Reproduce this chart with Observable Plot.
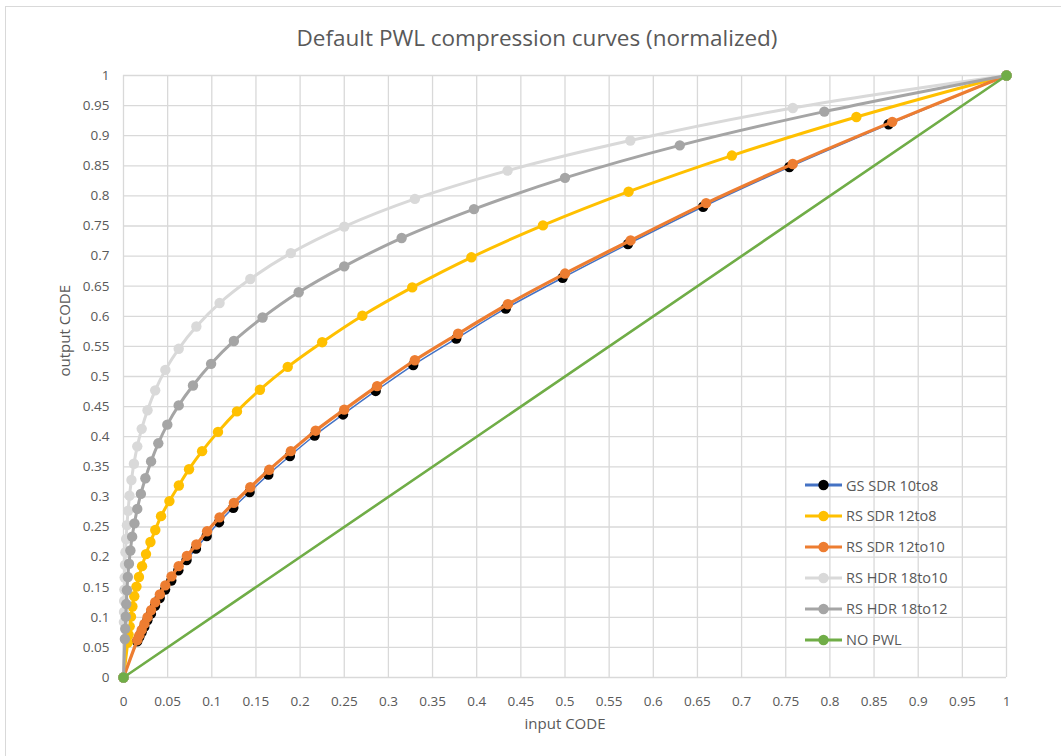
<!DOCTYPE html>
<html><head><meta charset="utf-8">
<script src="https://cdn.jsdelivr.net/npm/d3@7"></script>
<script src="https://cdn.jsdelivr.net/npm/@observablehq/plot@0.6"></script>
<style>
body{margin:0;background:#fff;}
#wrap{position:relative;width:1061px;height:756px;overflow:hidden;font-family:"Open Sans",sans-serif;}
#frame{position:absolute;left:5px;top:6px;width:1100px;height:800px;border-left:1px solid #d9d9d9;border-top:1px solid #d9d9d9;box-sizing:border-box;}
#chart{position:absolute;left:0;top:0;}
#legend{position:absolute;left:805px;top:0;}
.li{position:absolute;left:0;height:20px;display:flex;align-items:center;white-space:nowrap;font-size:14.5px;color:#595959;}
.li svg{margin-right:3px;}
</style></head>
<body><div id="wrap"><div id="frame"></div><div id="chart"></div><div id="legend"></div></div>
<script>
// ---- tick values and labels ----
const tickValues = [0,0.05,0.1,0.15,0.2,0.25,0.3,0.35,0.4,0.45,0.5,0.55,0.6,0.65,0.7,0.75,0.8,0.85,0.9,0.95,1];
const tickLabels = ["0","0.05","0.1","0.15","0.2","0.25","0.3","0.35","0.4","0.45","0.5","0.55","0.6","0.65","0.7","0.75","0.8","0.85","0.9","0.95","1"];

// ---- series names ----
const seriesNames = ["GS SDR 10to8","RS SDR 12to8","RS SDR 12to10","RS HDR 18to10","RS HDR 18to12","NO PWL"];

// GS SDR 10to8
const gsX = [0,0.0155,0.0178,0.0205,0.0235,0.027,0.0311,0.0357,0.041,0.0471,0.0541,0.0621,0.0714,0.082,0.0942,0.1082,0.1243,0.1428,0.164,0.1884,0.2164,0.2486,0.2856,0.3281,0.3768,0.4329,0.4973,0.5713,0.6564,0.7541,0.8665,1];
const gsY = [0,0.060,0.067,0.075,0.084,0.095,0.106,0.119,0.132,0.146,0.161,0.178,0.195,0.214,0.235,0.258,0.282,0.308,0.337,0.368,0.402,0.437,0.476,0.519,0.563,0.613,0.664,0.720,0.782,0.848,0.919,1];

// RS SDR 12to8
const sdr8X = [0,0.0048,0.0058,0.007,0.0085,0.0101,0.0122,0.0147,0.0175,0.021,0.0255,0.0305,0.036,0.0425,0.052,0.0627,0.0742,0.089,0.107,0.1285,0.1545,0.186,0.225,0.2705,0.327,0.394,0.475,0.572,0.689,0.830,1];
const sdr8Y = [0,0.058,0.071,0.085,0.101,0.118,0.135,0.151,0.167,0.185,0.205,0.225,0.245,0.268,0.293,0.319,0.346,0.376,0.408,0.442,0.478,0.516,0.557,0.601,0.648,0.698,0.751,0.807,0.867,0.931,1];

// RS SDR 12to10
const sdr10X = [0,0.0156,0.0179,0.0206,0.0237,0.0272,0.0313,0.0359,0.0412,0.0474,0.0544,0.0625,0.0718,0.0825,0.0947,0.1088,0.125,0.1436,0.165,0.1895,0.2176,0.25,0.2872,0.3299,0.3789,0.4353,0.5,0.5743,0.6598,0.7579,0.8706,1];
const sdr10Y = [0,0.062,0.070,0.079,0.089,0.100,0.112,0.125,0.138,0.153,0.168,0.185,0.202,0.221,0.243,0.266,0.290,0.316,0.345,0.376,0.410,0.445,0.484,0.527,0.571,0.620,0.671,0.726,0.788,0.853,0.923,1];

// RS HDR 18to10
const hdr10X = [0,0.00042,0.00056,0.00074,0.00098,0.0013,0.0017,0.0022,0.0030,0.0039,0.0052,0.0068,0.0090,0.0118,0.0156,0.0206,0.0272,0.0359,0.0474,0.0625,0.0825,0.1088,0.1436,0.1895,0.25,0.330,0.435,0.574,0.758,1];
const hdr10Y = [0,0.092,0.109,0.127,0.146,0.166,0.187,0.208,0.230,0.253,0.277,0.302,0.328,0.355,0.384,0.413,0.444,0.477,0.511,0.546,0.583,0.622,0.662,0.705,0.749,0.795,0.842,0.892,0.946,1];

// RS HDR 18to12
const hdr12X = [0,0.00155,0.00195,0.0025,0.0031,0.0039,0.0049,0.0062,0.0078,0.0098,0.0124,0.0156,0.0197,0.0248,0.03125,0.0394,0.0496,0.0625,0.0787,0.0992,0.125,0.1575,0.1984,0.25,0.315,0.3969,0.5,0.63,0.7937,1];
const hdr12Y = [0,0.064,0.081,0.101,0.122,0.145,0.167,0.189,0.211,0.234,0.256,0.280,0.305,0.331,0.359,0.389,0.420,0.452,0.485,0.521,0.559,0.598,0.640,0.683,0.730,0.778,0.830,0.884,0.940,1];

// NO PWL
const noX = [0,1];
const noY = [0,1];

const colors = {line:["#4472c4","#ffc000","#ed7d31","#d9d9d9","#a5a5a5","#70ad47"], dot:["#000000","#ffc000","#ed7d31","#d9d9d9","#a5a5a5","#70ad47"]};
const lineWidths = [1.5,3,3.2,3,3,2.6];

const rows = (xs, ys) => xs.map((x, i) => ({x, y: ys[i]}));
const series = [rows(gsX,gsY), rows(sdr8X,sdr8Y), rows(sdr10X,sdr10Y), rows(hdr10X,hdr10Y), rows(hdr12X,hdr12Y), rows(noX,noY)];

const marks = [
  Plot.gridX(tickValues, {stroke:"#d9d9d9", strokeOpacity:1, strokeWidth:1.3}),
  Plot.gridY(tickValues, {stroke:"#d9d9d9", strokeOpacity:1, strokeWidth:1.3}),
  Plot.axisX(tickValues, {anchor:"bottom", tickSize:0, tickPadding:19, fontSize:13.5, fill:"#595959", label:null,
    tickFormat: d => tickLabels[Math.round(d*20)]}),
  Plot.axisY(tickValues, {anchor:"left", tickSize:0, tickPadding:14, fontSize:13.5, fill:"#595959", label:null,
    tickFormat: d => tickLabels[Math.round(d*20)]}),
  Plot.text(["Default PWL compression curves (normalized)"], {frameAnchor:"top", lineAnchor:"middle", dy:-37, dx:-28, fontSize:22.5, fill:"#595959"}),
  Plot.text(["input CODE"], {frameAnchor:"bottom", lineAnchor:"middle", dy:47, fontSize:15, fill:"#595959"}),
  Plot.text(["output CODE"], {frameAnchor:"left", lineAnchor:"middle", dx:-58, rotate:-90, fontSize:15, fill:"#595959"})
];
series.forEach((d, i) => {
  marks.push(Plot.line(d, {x:"x", y:"y", stroke:colors.line[i], strokeWidth:lineWidths[i], curve:"catmull-rom"}));
  marks.push(Plot.dot(d, {x:"x", y:"y", r:5.2, fill:colors.dot[i], stroke:"none"}));
});

const chart = Plot.plot({
  width:1061, height:756,
  marginLeft:123, marginRight:55, marginTop:75, marginBottom:79,
  x:{domain:[0,1], axis:null},
  y:{domain:[0,1], axis:null},
  style:{fontFamily:'"Open Sans", sans-serif', background:"transparent", overflow:"visible"},
  marks
});
document.getElementById("chart").appendChild(chart);

// legend
const lg = document.getElementById("legend");
seriesNames.forEach((name, i) => {
  const div = document.createElement("div");
  div.className = "li";
  div.style.top = (475 + i*30.9) + "px";
  div.innerHTML = `<svg width="38" height="14"><line x1="0" y1="7" x2="37" y2="7" stroke="${colors.line[i]}" stroke-width="3"/><circle cx="18.5" cy="7" r="5.2" fill="${colors.dot[i]}"/></svg><span>${name}</span>`;
  lg.appendChild(div);
});
</script></body></html>
